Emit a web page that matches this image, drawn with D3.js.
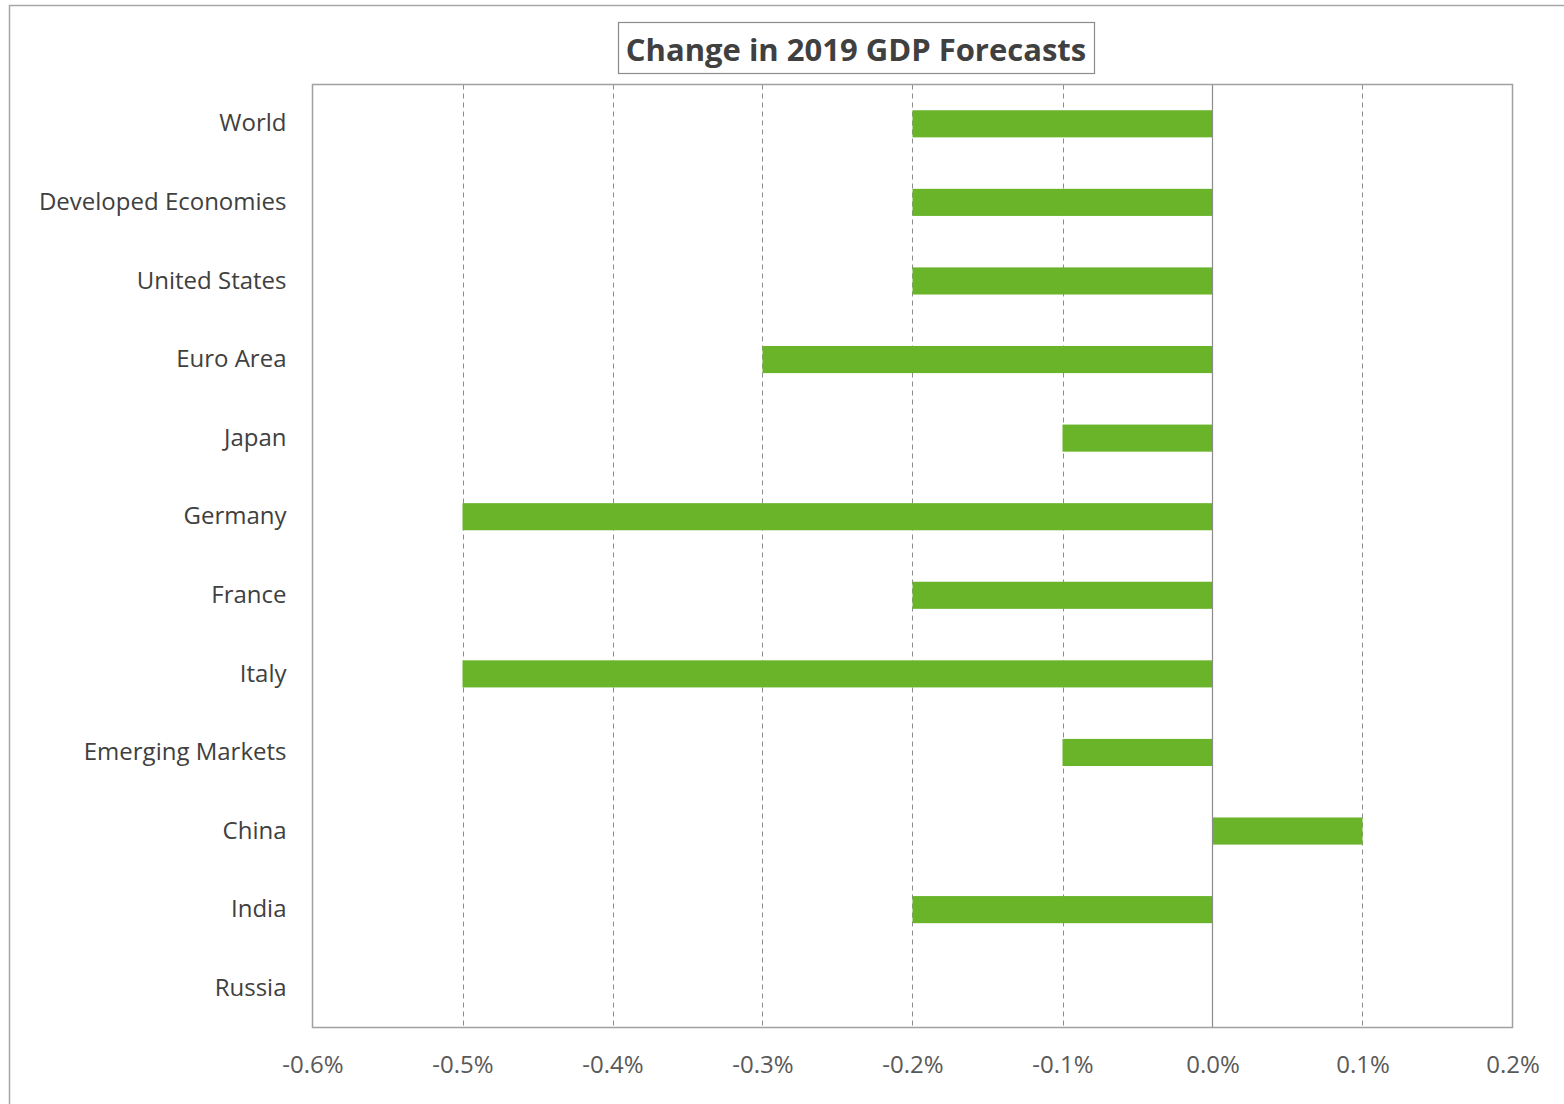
<html>
  <head>
    <meta charset="utf-8">
    <title>Change in 2019 GDP Forecasts</title>
    <script type="text/javascript" src="https://d3js.org/d3.v7.min.js"></script>
    <style type="text/css">
      body { margin: 0; background: #fff; }
      text { font-family: "Open Sans", "Noto Sans", sans-serif; }
    </style>
  </head>
  <body>
    <script type="text/javascript">

      // Data
      var categories = ["World", "Developed Economies", "United States", "Euro Area", "Japan",
                        "Germany", "France", "Italy", "Emerging Markets", "China", "India", "Russia"];
      var changes = [-0.2, -0.2, -0.2, -0.3, -0.1, -0.5, -0.2, -0.5, -0.1, 0.1, -0.2, 0.0];
      var xTicks = [-0.6, -0.5, -0.4, -0.3, -0.2, -0.1, 0.0, 0.1, 0.2];
      var title = "Change in 2019 GDP Forecasts";

      //Width and height
      var w = 1564;
      var h = 1104;
      var plot = { left: 312.5, right: 1512.5, top: 84.5, bottom: 1027.5 };

      var svg = d3.select("body")
            .append("svg")
            .attr("width", w)
            .attr("height", h);

      // outer chart border
      svg.append("rect")
         .attr("x", 9.5).attr("y", 5.5)
         .attr("width", w).attr("height", h)
         .attr("fill", "none")
         .attr("stroke", "#a6a6a6")
         .attr("stroke-width", 1.5);

      var x = d3.scaleLinear()
            .domain([-0.6, 0.2])
            .range([plot.left, plot.right]);

      var y = d3.scaleBand()
            .domain(categories)
            .range([plot.top, plot.bottom])
            .paddingInner(0.655)
            .paddingOuter(0.3275);

      // dashed gridlines
      svg.selectAll("line.grid")
         .data(xTicks.filter(function(d){ return d !== 0 && d > -0.6 && d < 0.2; }))
         .enter()
         .append("line")
         .attr("class", "grid")
         .attr("x1", d => Math.round(x(d)) + 0.5)
         .attr("x2", d => Math.round(x(d)) + 0.5)
         .attr("y1", plot.top)
         .attr("y2", plot.bottom)
         .attr("stroke", "#8c8c8c")
         .attr("stroke-width", 1)
         .attr("stroke-dasharray", "5,4");

      // bars
      svg.selectAll("rect.bar")
         .data(categories)
         .enter()
         .append("rect")
         .attr("class", "bar")
         .attr("x", (d, i) => x(Math.min(0, changes[i])))
         .attr("y", d => y(d))
         .attr("width", (d, i) => Math.abs(x(changes[i]) - x(0)))
         .attr("height", y.bandwidth())
         .attr("fill", "#6ab42a");

      // zero line
      svg.append("line")
         .attr("x1", Math.round(x(0)) + 0.5)
         .attr("x2", Math.round(x(0)) + 0.5)
         .attr("y1", plot.top)
         .attr("y2", plot.bottom)
         .attr("stroke", "#8c8c8c")
         .attr("stroke-width", 1.2);

      // plot area border
      svg.append("rect")
         .attr("x", plot.left).attr("y", plot.top)
         .attr("width", plot.right - plot.left)
         .attr("height", plot.bottom - plot.top)
         .attr("fill", "none")
         .attr("stroke", "#a0a0a0")
         .attr("stroke-width", 1.5);

      // x axis labels
      var xAxis = d3.axisBottom(x)
            .tickValues(xTicks)
            .tickSize(0)
            .tickPadding(28)
            .tickFormat(d => d3.format(".1f")(d).replace("\u2212", "-") + "%");

      svg.append("g")
         .attr("transform", "translate(0," + plot.bottom + ")")
         .call(xAxis)
         .call(g => g.select(".domain").remove())
         .selectAll("text")
         .attr("font-family", "'Open Sans', sans-serif")
         .attr("font-size", 24)
         .attr("fill", "#595959");

      // category labels
      var yAxis = d3.axisLeft(y).tickSize(0).tickPadding(26);
      svg.append("g")
         .attr("transform", "translate(" + plot.left + ",0)")
         .call(yAxis)
         .call(g => g.select(".domain").remove())
         .selectAll("text")
         .attr("font-family", "'Open Sans', sans-serif")
         .attr("font-size", 24)
         .attr("fill", "#404040");

      // title with box
      var tg = svg.append("g");
      var tt = tg.append("text")
         .attr("x", 856)
         .attr("y", 49)
         .attr("text-anchor", "middle")
         .attr("dominant-baseline", "central")
         .attr("font-size", 31)
         .attr("font-weight", "bold")
         .attr("fill", "#404040")
         .text(title);
      var bb = tt.node().getBBox();
      tg.insert("rect", "text")
         .attr("x", Math.round(bb.x - 8) + 0.5)
         .attr("y", 22.5)
         .attr("width", Math.round(bb.width + 16))
         .attr("height", 51)
         .attr("fill", "#fff")
         .attr("stroke", "#8c8c8c")
         .attr("stroke-width", 1.2);

    </script>
  </body>
</html>
